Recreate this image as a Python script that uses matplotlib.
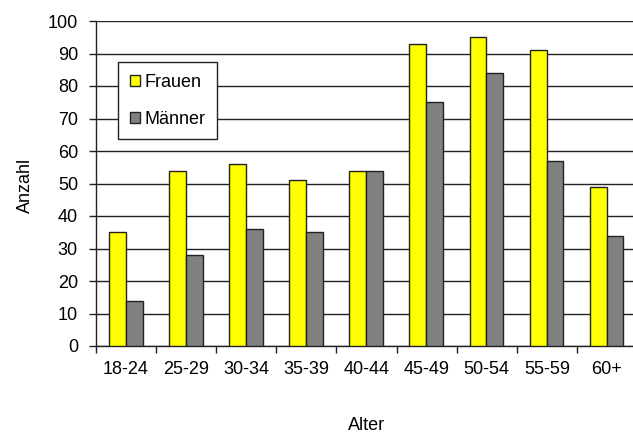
import matplotlib
matplotlib.use("Agg")
import matplotlib.pyplot as plt
import numpy as np

categories = ["18-24", "25-29", "30-34", "35-39", "40-44", "45-49", "50-54", "55-59", "60+"]
frauen = [35, 54, 56, 51, 54, 93, 95, 91, 49]
maenner = [14, 28, 36, 35, 54, 75, 84, 57, 34]
yticks = [0, 10, 20, 30, 40, 50, 60, 70, 80, 90, 100]

plt.rcParams['font.family'] = ['Liberation Sans', 'DejaVu Sans']
fs = 13

fig = plt.figure(figsize=(6.33, 4.34), dpi=100)
ax = fig.add_axes([96/633, (434-346)/434, 541/633, 325/434])

x = np.arange(len(categories))
w = 0.28
ax.bar(x - w/2 - 0.005, frauen, w, color='#FFFF00', edgecolor='#222222', linewidth=1.0, label='Frauen', zorder=3)
ax.bar(x + w/2 - 0.005, maenner, w, color='#808080', edgecolor='#222222', linewidth=1.0, label='Männer', zorder=3)

ax.set_xlim(-0.5, len(categories) - 0.5)
ax.set_ylim(0, 100)
ax.set_yticks(yticks)
ax.set_yticklabels([str(v) for v in yticks], fontsize=fs)
ax.yaxis.grid(True, color='#222222', linewidth=1.0, zorder=0)
ax.set_axisbelow(True)

ax.set_xticks(x)
ax.set_xticklabels(categories, fontsize=fs)
ax.set_xticks(np.arange(-0.5, len(categories) - 0.5, 1.0), minor=True)
ax.tick_params(axis='x', which='major', length=0, pad=11)
ax.tick_params(axis='x', which='minor', length=5, width=1.0, color='#222222', direction='out')
ax.tick_params(axis='y', length=5, width=1.0, color='#222222', direction='out', pad=8)

for s in ['top', 'right']:
    ax.spines[s].set_visible(False)
for s in ['left', 'bottom']:
    ax.spines[s].set_color('#222222')
    ax.spines[s].set_linewidth(1.0)

fig.text(367/633, 1 - 425/434, 'Alter', ha='center', va='center', fontsize=fs)
fig.text(25/633, 1 - 185/434, 'Anzahl', ha='center', va='center', rotation=90, fontsize=fs)

leg = ax.legend(loc='upper left', bbox_to_anchor=(0.041, 0.874), fontsize=fs,
                frameon=True, fancybox=False, edgecolor='#222222', framealpha=1,
                borderaxespad=0, borderpad=0.65, labelspacing=1.1,
                handlelength=0.55, handleheight=0.55, handletextpad=0.25)
leg.get_frame().set_linewidth(1.0)
leg.set_zorder(5)

fig.savefig('out.png', dpi=100)
